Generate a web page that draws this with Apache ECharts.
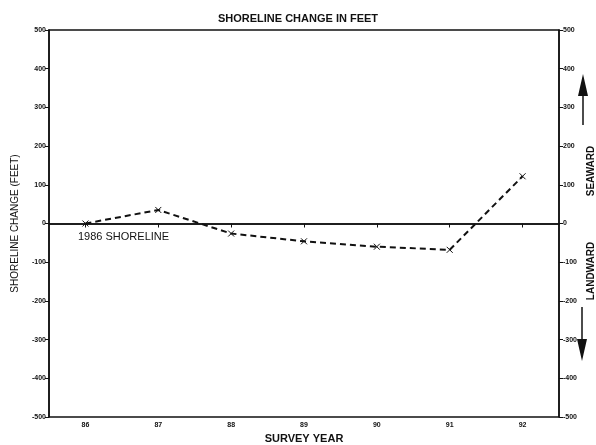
<!DOCTYPE html>
<html><head><meta charset="utf-8">
<script src="https://cdn.jsdelivr.net/npm/echarts@6/dist/echarts.min.js"></script>
<style>html,body{margin:0;padding:0;background:#fff}#c{width:596px;height:445px}</style>
</head><body><div id="c"></div>
<script>
const years = ['86','87','88','89','90','91','92'];
const shorelineChange = [0, 35, -26, -46, -60, -68, 122];
const yTicks = [-500, -400, -300, -200, -100, 0, 100, 200, 300, 400, 500];
const titleText = 'SHORELINE CHANGE IN FEET';
const xName = 'SURVEY YEAR';
const yName = 'SHORELINE CHANGE (FEET)';
const baselineLabel = '1986 SHORELINE';

const font = 'Liberation Sans, Arial, sans-serif';
const chart = echarts.init(document.getElementById('c'), null, {renderer: 'canvas'});
const tickLbl = {fontSize: 7, fontWeight: 'bold', color: '#111', fontFamily: font};
const yAxisBase = {
  type: 'value', min: yTicks[0], max: yTicks[yTicks.length - 1], interval: 100,
  splitLine: {show: false},
  axisLine: {show: true, lineStyle: {color: '#111', width: 1.5}},
  axisTick: {show: true, length: 4, lineStyle: {color: '#111'}},
};
chart.setOption({
  animation: false,
  backgroundColor: '#fff',
  title: {text: titleText, left: 'center', top: 8,
    textStyle: {fontSize: 11, fontWeight: 'bold', color: '#111', fontFamily: font}},
  grid: {left: 49, right: 37, top: 30, bottom: 28, outerBoundsMode: 'none', containLabel: false,
    show: true, borderColor: '#111', borderWidth: 1.5, backgroundColor: 'transparent'},
  xAxis: {
    type: 'category', data: years, boundaryGap: true,
    name: xName, nameLocation: 'middle', nameGap: 15,
    nameTextStyle: {fontSize: 11, fontWeight: 'bold', color: '#111', fontFamily: font},
    axisLine: {show: true, lineStyle: {color: '#111', width: 1.5}},
    axisTick: {show: true, alignWithLabel: true, length: 4, lineStyle: {color: '#111'}},
    axisLabel: Object.assign({margin: 5}, tickLbl),
    splitLine: {show: false}
  },
  yAxis: [
    Object.assign({}, yAxisBase, {
      position: 'left', name: yName, nameLocation: 'middle', nameGap: 29, nameRotate: 90,
      nameTextStyle: {fontSize: 10, color: '#111', fontFamily: font},
      axisLabel: Object.assign({margin: 3}, tickLbl)
    }),
    Object.assign({}, yAxisBase, {
      position: 'right',
      axisLabel: Object.assign({margin: 4}, tickLbl)
    })
  ],
  series: [{
    type: 'line', data: shorelineChange, yAxisIndex: 0,
    symbol: 'path://M0,0L10,10M10,0L0,10', symbolSize: 6, showSymbol: true,
    itemStyle: {color: '#111', borderColor: '#111', borderWidth: 1},
    lineStyle: {color: '#111', width: 2, type: [6, 4]},
    markLine: {
      silent: true, symbol: 'none', label: {show: false},
      lineStyle: {color: '#111', type: 'solid', width: 1.5},
      data: [{yAxis: 0}]
    }
  }],
  graphic: [
    {type: 'text', left: 78, top: 231, style: {text: baselineLabel, fontSize: 11, fill: '#111', fontFamily: font}},
    {type: 'text', x: 591, y: 171, rotation: Math.PI / 2,
      style: {text: 'SEAWARD', fontSize: 10, fontWeight: 'bold', fill: '#111', fontFamily: font, align: 'center', verticalAlign: 'middle'}},
    {type: 'text', x: 591, y: 271, rotation: Math.PI / 2,
      style: {text: 'LANDWARD', fontSize: 10, fontWeight: 'bold', fill: '#111', fontFamily: font, align: 'center', verticalAlign: 'middle'}},
    {type: 'line', shape: {x1: 583, y1: 125, x2: 583, y2: 92}, style: {stroke: '#111', lineWidth: 1.5}},
    {type: 'polygon', shape: {points: [[583, 74], [578, 96], [588, 96]]}, style: {fill: '#111'}},
    {type: 'line', shape: {x1: 582, y1: 307, x2: 582, y2: 342}, style: {stroke: '#111', lineWidth: 1.5}},
    {type: 'polygon', shape: {points: [[582, 361], [577, 339], [587, 339]]}, style: {fill: '#111'}}
  ]
});
</script></body></html>
